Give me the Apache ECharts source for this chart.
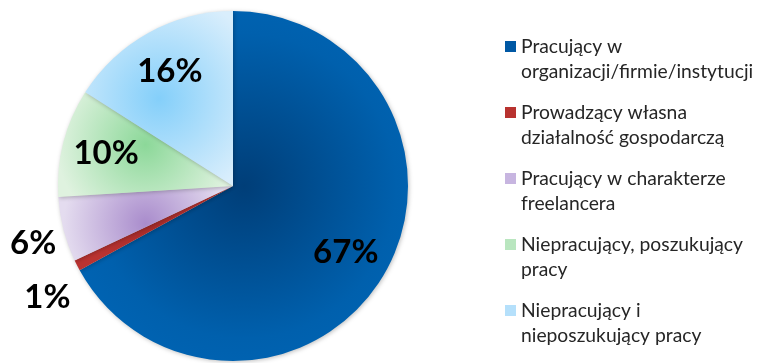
<!DOCTYPE html>
<html>
<head>
<meta charset="utf-8">
<script src="https://cdn.jsdelivr.net/npm/echarts@6/dist/echarts.min.js"></script>
<style>html,body{margin:0;padding:0;background:#fff;}#c{width:757px;height:363px;}</style>
</head>
<body>
<div id="c"></div>
<script>
const categories = [
  'Pracujący w organizacji/firmie/instytucji',
  'Prowadzący własna działalność gospodarczą',
  'Pracujący w charakterze freelancera',
  'Niepracujący, poszukujący pracy',
  'Niepracujący i nieposzukujący pracy'
];
const legendLabels = [
  'Pracujący w\norganizacji/firmie/instytucji',
  'Prowadzący własna\ndziałalność gospodarczą',
  'Pracujący w charakterze\nfreelancera',
  'Niepracujący, poszukujący\npracy',
  'Niepracujący i\nnieposzukujący pracy'
];
const values = [67, 1, 6, 10, 16];

// styles
const centerColors = ['#003e78', '#a82c2a', '#a98ccc', '#8cd899', '#84cffa'];
const edgeColors   = ['#0068bb', '#ba3331', '#e4dcef', '#dff2df', '#d9eefc'];
const gradRadius   = [0.75, 0.72, 1.1, 0.85, 0.72];
const legendColors = ['#0058a4', '#b8322f', '#c7b5e0', '#b9e6bf', '#b5e0fb'];

const chart = echarts.init(document.getElementById('c'));
const center = [233, 186];
const R = 175;

const mainData = categories.map((n, i) => ({
  name: n, value: values[i],
  itemStyle: {
    color: {
      type: 'radial', x: 0.5, y: 0.5, r: gradRadius[i],
      colorStops: i === 0 ? [
        {offset: 0, color: centerColors[i]},
        {offset: 0.62, color: '#0060ad'},
        {offset: 1, color: edgeColors[i]}
      ] : [
        {offset: 0, color: centerColors[i]},
        {offset: 1, color: edgeColors[i]}
      ]
    }
  }
}));

const labelFont = {fontFamily: 'Lato', fontWeight: 'bold', fontSize: 33, color: '#000'};

const insideData = categories.map((n, i) => ({
  name: n, value: values[i],
  label: {show: values[i] >= 10}
}));
const outsideData = categories.map((n, i) => ({
  name: n, value: values[i],
  label: {show: values[i] < 10, offset: values[i] < 2 ? [2, 16] : [4, 5]}
}));

chart.setOption({
  animation: false,
  legend: {
    orient: 'vertical',
    left: 500, top: 29,
    itemWidth: 11, itemHeight: 50, itemGap: 16,
    icon: 'path://M0,0L0.01,0M0,7L11,7L11,18L0,18ZM0,50L0.01,50',
    selectedMode: false,
    textStyle: {fontFamily: 'Lato', fontSize: 19.3, lineHeight: 25, color: '#262626'},
    formatter: name => legendLabels[categories.indexOf(name)],
    data: categories.map((n, i) => ({name: n, itemStyle: {color: legendColors[i], borderWidth: 0}}))
  },
  series: [
    {
      type: 'pie', center: center, radius: [0, R],
      startAngle: 90, clockwise: true,
      label: {show: false}, labelLine: {show: false},
      emphasis: {disabled: true},
      itemStyle: {shadowBlur: 4, shadowColor: 'rgba(0,0,0,0.25)', shadowOffsetX: 1, shadowOffsetY: 1},
      data: mainData
    },
    {
      type: 'pie', center: center, radius: [81, R],
      startAngle: 90, clockwise: true, silent: true,
      itemStyle: {color: 'rgba(0,0,0,0)'},
      label: Object.assign({position: 'inside', formatter: '{c}%'}, labelFont),
      labelLine: {show: false},
      emphasis: {disabled: true},
      data: insideData
    },
    {
      type: 'pie', center: center, radius: [R, 240],
      startAngle: 90, clockwise: true, silent: true,
      itemStyle: {color: 'rgba(0,0,0,0)'},
      label: Object.assign({position: 'inside', formatter: '{c}%'}, labelFont),
      labelLine: {show: false},
      emphasis: {disabled: true},
      data: outsideData
    }
  ]
});
</script>
</body>
</html>
